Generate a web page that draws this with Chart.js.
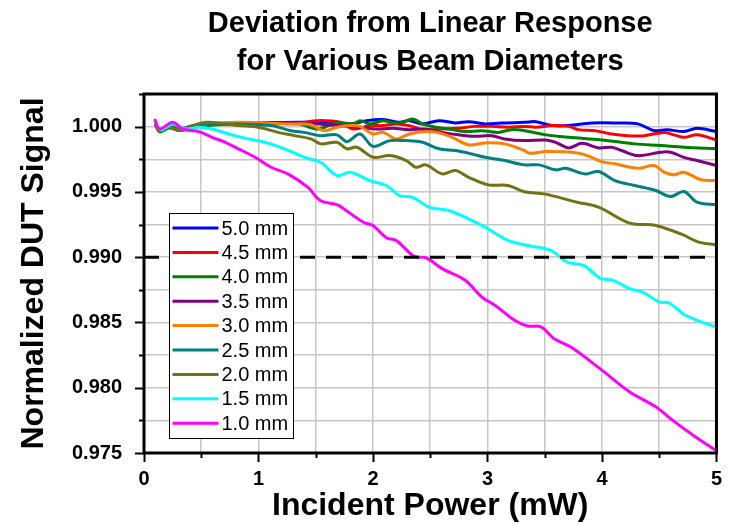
<!DOCTYPE html>
<html>
<head>
<meta charset="utf-8">
<script src="https://cdn.jsdelivr.net/npm/chart.js@4.4.0/dist/chart.umd.min.js"></script>
<style>
    html, body { margin: 0; padding: 0; background: #fff; }
</style>
</head>
<body>
<canvas id="deviationChart" width="736" height="525"></canvas>
<script>
var titleLines = ['Deviation from Linear Response', 'for Various Beam Diameters'];
var xTitle = 'Incident Power (mW)';
var yTitle = 'Normalized DUT Signal';

var diameters = ['5.0 mm', '4.5 mm', '4.0 mm', '3.5 mm', '3.0 mm', '2.5 mm', '2.0 mm', '1.5 mm', '1.0 mm'];
var colors = ['#0000ff', '#ff0000', '#008000', '#800080', '#ff8000', '#008080', '#727214', '#00ffff', '#ff00ff'];
var limitLevel = 0.990;

// power (mW) / normalized signal
var x50 = [0.1, 0.14, 0.22, 0.3, 0.45, 0.825, 1.342, 1.6, 1.8, 1.945, 2.089, 2.232, 2.318, 2.433, 2.576, 2.72, 2.835, 2.978, 3.122, 3.323, 3.424, 3.567, 3.71, 3.911, 4.14, 4.313, 4.457, 4.57, 4.716, 4.83, 5.0];
var y50 = [1.0002, 0.9997, 1.0001, 0.9998, 1.0001, 1.00023, 1.00033, 1.00033, 1.00021, 1.00046, 1.00054, 1.00033, 1.00046, 1.00021, 1.00046, 1.00028, 1.00038, 1.00021, 1.00028, 1.00033, 1.00038, 1.00008, 1.00008, 1.00028, 1.00028, 1.00021, 0.99969, 0.99977, 0.99962, 0.99987, 0.99962];

var x45 = [0.1, 0.14, 0.22, 0.31, 0.45, 0.825, 1.342, 1.514, 1.715, 1.83, 1.973, 2.089, 2.203, 2.318, 2.433, 2.605, 2.748, 2.892, 3.036, 3.18, 3.323, 3.424, 3.567, 3.71, 3.797, 3.94, 4.083, 4.227, 4.371, 4.543, 4.63, 4.716, 4.83, 5.0];
var y45 = [1.0003, 0.9997, 1.0001, 0.9997, 1.0001, 1.00023, 1.00027, 1.00046, 1.00033, 0.99982, 1.00008, 1.00008, 1.00021, 1.00008, 0.99977, 0.99982, 0.99987, 1.00002, 1.00002, 0.99995, 1.00002, 0.99995, 1.00008, 1.00002, 0.99977, 0.99969, 0.99944, 0.99931, 0.99931, 0.99956, 0.99937, 0.99918, 0.99937, 0.99898];

var x40 = [0.1, 0.14, 0.22, 0.31, 0.45, 0.825, 1.342, 1.514, 1.686, 1.83, 1.887, 1.973, 2.089, 2.175, 2.26, 2.347, 2.433, 2.548, 2.692, 2.806, 2.95, 3.093, 3.208, 3.323, 3.51, 3.71, 3.997, 4.285, 4.514, 4.716, 5.0];
var y40 = [1.0001, 0.9996, 0.9999, 0.9997, 1.0, 1.00023, 1.00023, 0.99982, 1.0003, 1.00021, 1.00046, 1.00021, 1.00046, 1.00028, 1.00033, 1.00059, 1.00021, 0.99995, 0.99977, 0.99962, 0.99969, 0.99956, 0.99977, 0.99969, 0.99937, 0.99918, 0.99898, 0.99868, 0.99855, 0.99842, 0.9983];

var x35 = [0.1, 0.14, 0.22, 0.31, 0.45, 0.825, 1.342, 1.6, 1.887, 2.03, 2.175, 2.318, 2.462, 2.605, 2.748, 2.892, 3.036, 3.15, 3.323, 3.51, 3.596, 3.71, 3.825, 3.97, 4.083, 4.17, 4.313, 4.514, 4.6, 4.716, 4.83, 5.0];
var y35 = [1.0002, 0.9997, 1.0001, 0.9998, 1.0001, 1.00027, 1.0003, 1.00015, 0.99995, 0.99982, 0.99987, 0.99977, 0.99982, 0.99956, 0.99937, 0.99926, 0.99931, 0.99906, 0.99893, 0.99898, 0.9988, 0.99837, 0.99872, 0.99837, 0.99842, 0.99817, 0.99778, 0.99804, 0.99804, 0.99765, 0.9974, 0.99702];

var x30 = [0.1, 0.14, 0.22, 0.31, 0.45, 0.825, 1.256, 1.457, 1.572, 1.686, 1.8, 1.887, 2.0, 2.089, 2.203, 2.318, 2.462, 2.576, 2.692, 2.835, 2.978, 3.15, 3.323, 3.366, 3.51, 3.739, 3.854, 3.997, 4.113, 4.313, 4.457, 4.543, 4.63, 4.716, 4.86, 5.0];
var y30 = [1.0002, 0.9997, 1.0001, 0.9998, 1.0001, 1.00033, 1.00021, 1.00015, 0.99969, 0.99995, 1.00008, 1.00002, 0.99944, 0.99956, 0.99906, 0.99944, 0.99962, 0.99952, 0.99918, 0.9986, 0.99875, 0.99868, 0.99817, 0.99796, 0.99809, 0.99804, 0.99784, 0.99732, 0.99715, 0.99681, 0.99702, 0.99651, 0.99631, 0.99651, 0.99595, 0.99587];

var x25 = [0.1, 0.14, 0.22, 0.31, 0.45, 0.825, 1.112, 1.284, 1.4, 1.543, 1.686, 1.773, 1.887, 2.0, 2.146, 2.29, 2.433, 2.576, 2.72, 2.864, 2.978, 3.15, 3.323, 3.452, 3.596, 3.682, 3.854, 3.97, 4.113, 4.285, 4.47, 4.6, 4.716, 4.83, 5.0];
var y25 = [1.0002, 0.9997, 1.0001, 0.9998, 1.0001, 1.00021, 1.00008, 0.99969, 0.99956, 0.99931, 0.99937, 0.99885, 0.99944, 0.99849, 0.99893, 0.99893, 0.9988, 0.9983, 0.99817, 0.99791, 0.99765, 0.9974, 0.99707, 0.99707, 0.99669, 0.99681, 0.99638, 0.99656, 0.99587, 0.99549, 0.99511, 0.99465, 0.99503, 0.99421, 0.99401];

var x20 = [0.1, 0.14, 0.22, 0.31, 0.538, 0.825, 0.997, 1.17, 1.313, 1.457, 1.543, 1.686, 1.773, 1.859, 2.0, 2.146, 2.29, 2.375, 2.462, 2.605, 2.72, 2.835, 3.007, 3.18, 3.323, 3.495, 3.782, 3.97, 4.242, 4.47, 4.7, 4.845, 4.988];
var y20 = [1.0002, 0.9997, 1.0, 0.9997, 1.00033, 1.00008, 0.99995, 0.99956, 0.99931, 0.99906, 0.99868, 0.9988, 0.9983, 0.99842, 0.99765, 0.99778, 0.9974, 0.99689, 0.99707, 0.99638, 0.99664, 0.99612, 0.99554, 0.99549, 0.99501, 0.99485, 0.99421, 0.99383, 0.99261, 0.99243, 0.99174, 0.99115, 0.99096];

var x15 = [0.093, 0.151, 0.25, 0.366, 0.48, 0.595, 0.739, 0.911, 1.055, 1.227, 1.4, 1.543, 1.686, 1.8, 1.973, 2.117, 2.232, 2.347, 2.49, 2.662, 2.835, 2.978, 3.18, 3.35, 3.553, 3.696, 3.84, 3.984, 4.099, 4.242, 4.356, 4.5, 4.587, 4.73, 4.988];
var y15 = [1.00046, 0.99975, 1.00021, 0.99982, 0.99995, 0.99982, 0.99944, 0.99906, 0.9988, 0.9983, 0.99765, 0.99727, 0.99625, 0.99651, 0.99587, 0.99549, 0.99472, 0.99459, 0.99383, 0.99358, 0.99294, 0.9923, 0.99128, 0.9909, 0.99052, 0.98963, 0.98937, 0.9884, 0.98823, 0.98759, 0.98733, 0.98657, 0.98649, 0.98555, 0.98466];

var x10 = [0.093, 0.136, 0.25, 0.337, 0.48, 0.595, 0.71, 0.825, 0.97, 1.11, 1.256, 1.43, 1.54, 1.69, 1.744, 1.917, 2.0, 2.117, 2.203, 2.36, 2.46, 2.605, 2.806, 2.95, 3.065, 3.237, 3.35, 3.467, 3.58, 3.725, 3.98, 4.24, 4.47, 4.615, 4.815, 4.99];
var y10 = [1.00059, 0.99982, 1.00033, 0.99982, 0.99962, 0.99918, 0.9988, 0.9983, 0.99765, 0.99689, 0.99638, 0.99536, 0.99434, 0.99401, 0.99371, 0.99268, 0.99243, 0.99149, 0.99128, 0.99006, 0.98996, 0.98912, 0.98823, 0.98695, 0.98632, 0.98517, 0.98473, 0.98466, 0.98377, 0.98313, 0.98148, 0.97969, 0.97854, 0.97752, 0.97625, 0.97523];

var xSeries = [x50, x45, x40, x35, x30, x25, x20, x15, x10];
var ySeries = [y50, y45, y40, y35, y30, y25, y20, y15, y10];

var FONT = '"Liberation Sans", Arial, Helvetica, sans-serif';

function toPoints(xs, ys) {
    var pts = [];
    for (var i = 0; i < xs.length; i++) {
        pts.push({ x: xs[i], y: ys[i] });
    }
    return pts;
}

var datasets = [];
for (var i = 0; i < diameters.length; i++) {
    datasets.push({
        label: diameters[i],
        data: toPoints(xSeries[i], ySeries[i]),
        borderColor: colors[i],
        borderWidth: 3,
        pointRadius: 0,
        tension: 0.35,
        fill: false,
        // smaller beams are drawn on top
        order: diameters.length - i
    });
}
datasets.push({
    label: 'limit',
    data: [{ x: 0, y: limitLevel }, { x: 5, y: limitLevel }],
    borderColor: '#000',
    borderWidth: 3,
    borderDash: [15, 11],
    pointRadius: 0,
    order: 0
});

// title, frame, tick marks and the inset legend
var decorPlugin = {
    id: 'decor',
    afterDraw: function (chart) {
        var ctx = chart.ctx;
        var area = chart.chartArea;
        var cx = (area.left + area.right) / 2;

        ctx.save();
        ctx.fillStyle = '#000';
        ctx.textAlign = 'center';
        ctx.textBaseline = 'alphabetic';
        ctx.font = 'bold 29px ' + FONT;
        ctx.fillText(titleLines[0], cx, 32);
        ctx.fillText(titleLines[1], cx, 70);

        // tick marks
        ctx.strokeStyle = '#000';
        ctx.lineWidth = 2;
        var ys = chart.scales.y;
        ys.ticks.forEach(function (t) {
            var py = Math.round(ys.getPixelForValue(t.value)) + 0.5;
            var len = t.label !== '' ? 9 : 5;
            ctx.beginPath();
            ctx.moveTo(area.left - len, py);
            ctx.lineTo(area.left, py);
            ctx.stroke();
        });
        var xs = chart.scales.x;
        xs.ticks.forEach(function (t) {
            var px = Math.round(xs.getPixelForValue(t.value)) + 0.5;
            var len = t.label !== '' ? 9 : 5;
            ctx.beginPath();
            ctx.moveTo(px, area.bottom);
            ctx.lineTo(px, area.bottom + len);
            ctx.stroke();
        });

        // frame
        ctx.lineWidth = 3;
        ctx.strokeRect(area.left, area.top, area.right - area.left, area.bottom - area.top);

        // legend box
        var lx = area.left + 25.5, ly = area.top + 119.5;
        var lw = 124, lh = 225;
        ctx.fillStyle = '#fff';
        ctx.fillRect(lx, ly, lw, lh);
        ctx.lineWidth = 1;
        ctx.strokeRect(lx, ly, lw, lh);
        ctx.font = '20px ' + FONT;
        ctx.textAlign = 'left';
        ctx.textBaseline = 'middle';
        for (var i = 0; i < diameters.length; i++) {
            var rowY = ly + 14.5 + i * 24.4;
            ctx.strokeStyle = colors[i];
            ctx.lineWidth = 3;
            ctx.beginPath();
            ctx.moveTo(lx + 3, rowY);
            ctx.lineTo(lx + 49, rowY);
            ctx.stroke();
            ctx.fillStyle = '#000';
            ctx.fillText(diameters[i], lx + 52, rowY + 1);
        }
        ctx.restore();
    }
};

var ctx = document.getElementById('deviationChart').getContext('2d');
var deviationChart = new Chart(ctx, {
    type: 'line',
    data: { datasets: datasets },
    options: {
        responsive: false,
        animation: false,
        devicePixelRatio: 1,
        layout: {
            padding: { top: 94, right: 11, left: 0, bottom: 0 }
        },
        plugins: {
            legend: { display: false },
            title: { display: false },
            tooltip: { enabled: false }
        },
        scales: {
            x: {
                type: 'linear',
                min: 0,
                max: 5,
                afterFit: function (scale) { scale.height = 72; },
                border: { display: false },
                grid: { color: '#c6c6c6', lineWidth: 1.5, drawTicks: false },
                ticks: {
                    stepSize: 0.5,
                    autoSkip: false,
                    maxRotation: 0,
                    padding: 14,
                    color: '#000',
                    font: { family: FONT, size: 20, weight: 'bold' },
                    callback: function (v) {
                        return Math.abs(v - Math.round(v)) < 1e-6 ? String(Math.round(v)) : '';
                    }
                },
                title: {
                    display: true,
                    text: xTitle,
                    color: '#000',
                    padding: { top: 0, bottom: 0 },
                    font: { family: FONT, size: 32, weight: 'bold' }
                }
            },
            y: {
                type: 'linear',
                min: 0.975,
                max: 1.0025,
                afterFit: function (scale) { scale.width = 144; },
                border: { display: false },
                grid: { color: '#c6c6c6', lineWidth: 1.5, drawTicks: false },
                ticks: {
                    stepSize: 0.0025,
                    autoSkip: false,
                    padding: 22,
                    color: '#000',
                    font: { family: FONT, size: 20, weight: 'bold' },
                    callback: function (v) {
                        return Math.round(v * 10000) % 50 === 0 ? v.toFixed(3) : '';
                    }
                },
                title: {
                    display: true,
                    text: yTitle,
                    color: '#000',
                    padding: { top: 15, bottom: 0 },
                    font: { family: FONT, size: 32, weight: 'bold' }
                }
            }
        }
    },
    plugins: [decorPlugin]
});
</script>
</body>
</html>
